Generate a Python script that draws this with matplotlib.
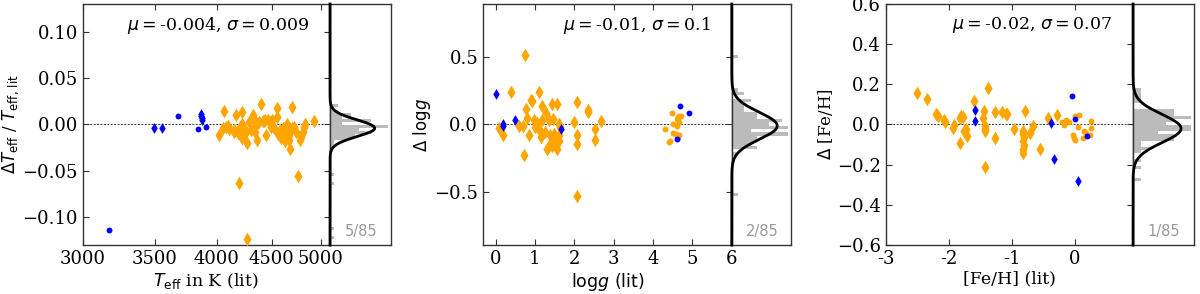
import numpy as np
import matplotlib
matplotlib.use('Agg')
from matplotlib import pyplot as plt
from matplotlib.ticker import NullLocator

plt.rcParams['font.family'] = 'DejaVu Serif'
plt.rcParams['mathtext.fontset'] = 'dejavusans'
plt.rcParams['font.size'] = 12

# ---- Teff panel ----
teff_od = [4015, 4050, 4061, 4081, 4100, 4110, 4150, 4155, 4169, 4188, 4197, 4200, 4213, 4219,
           4225, 4225, 4230, 4240, 4260, 4268, 4271, 4290, 4306, 4321, 4330, 4340, 4345, 4360,
           4382, 4398, 4415, 4430, 4440, 4447, 4462, 4480, 4497, 4500, 4520, 4549, 4551, 4560,
           4583, 4590, 4600, 4610, 4624, 4630, 4645, 4652, 4660, 4669, 4675, 4680, 4699, 4700,
           4724, 4746, 4765, 4785, 4795, 4810, 4825, 4835, 4929]
dteff_od = [-0.0115, -0.004, 0.0147, -0.0026, -0.002, -0.005, -0.008, -0.006, 0.010, -0.0097,
            -0.0636, -0.003, -0.0097, 0.0136, 0.001, -0.015, -0.012, -0.004, -0.008, -0.0205,
            -0.124, 0.0028, -0.006, 0.010, 0.006, -0.008, -0.003, -0.017, 0.003, 0.0219, 0.004,
            0.004, 0.005, -0.0115, 0.005, 0.003, -0.0026, 0.005, -0.004, 0.008, 0.0183, -0.010,
            -0.006, -0.015, -0.0097, -0.004, -0.013, -0.018, -0.0079, 0.0, -0.006, -0.0162,
            -0.011, -0.026, 0.019, -0.004, -0.0026, -0.008, -0.0558, -0.0162, -0.013, -0.008,
            -0.0026, 0.001, 0.0039]
teff_bd = [3499, 3558, 3869, 3869, 3872, 3872]
dteff_bd = [-0.0043, -0.0036, 0.011, 0.009, 0.007, 0.005]
teff_bc = [3176, 3678, 3844, 3905]
dteff_bc = [-0.1133, 0.009, -0.0054, -0.0032]

# ---- logg panel ----
logg_od = [0.09, 0.18, 0.39, 0.60, 0.70, 0.745, 0.72, 0.76, 0.79, 0.86, 0.90, 0.92, 0.97, 1.00,
           1.03, 1.05, 1.10, 1.12, 1.15, 1.17, 1.19, 1.25, 1.29, 1.30, 1.35, 1.35, 1.38, 1.40,
           1.44, 1.44, 1.46, 1.46, 1.48, 1.50, 1.56, 1.56, 1.60, 1.60, 1.60, 1.64, 1.99, 2.07,
           2.07, 2.07, 2.06, 2.35, 2.35, 2.52, 2.52, 2.69]
dlogg_od = [-0.025, -0.08, 0.238, -0.013, -0.013, 0.515, -0.223, 0.111, 0.045, -0.08, 0.18,
            0.17, 0.032, -0.018, 0.0, 0.01, 0.242, -0.05, -0.09, 0.03, 0.136, -0.055, 0.082,
            -0.178, 0.03, -0.16, -0.08, -0.14, -0.16, 0.149, 0.04, -0.10, -0.07, -0.15, -0.18,
            0.15, 0.0, -0.08, -0.12, -0.02, 0.02, 0.168, -0.075, -0.145, -0.53, 0.106, 0.09,
            -0.03, -0.117, 0.025]
logg_oc = [4.30, 4.40, 4.43, 4.49, 4.50, 4.50, 4.58, 4.60, 4.62, 4.63, 4.64, 4.65, 4.66, 4.67, 4.72]
dlogg_oc = [-0.035, -0.13, -0.12, 0.086, 0.0, -0.062, -0.07, 0.04, -0.01, 0.057, -0.09, -0.08,
            0.015, 0.06, 0.065]
logg_bd = [0.0, 0.18, 0.19, 0.5, 1.67]
dlogg_bd = [0.227, 0.0, -0.012, 0.032, -0.03]
logg_bc = [4.69, 4.91, 4.62]
dlogg_bc = [0.136, 0.084, -0.107]

# ---- [Fe/H] panel ----
feh_od = [-2.51, -2.34, -2.20, -2.17, -2.08, -2.06, -1.93, -1.91, -1.83, -1.83, -1.80, -1.77,
          -1.76, -1.73, -1.71, -1.60, -1.46, -1.45, -1.42, -1.42, -1.42, -1.38, -1.42, -1.27,
          -1.26, -1.15, -1.10, -1.07, -0.97, -0.80, -0.82, -0.82, -0.81, -0.82, -0.81, -0.82,
          -0.83, -0.71, -0.67, -0.55, -0.43, -0.29]
dfeh_od = [0.157, 0.129, 0.05, 0.043, 0.021, 0.012, -0.015, -0.004, -0.092, 0.03, 0.042, 0.037,
           -0.03, -0.02, -0.058, 0.118, 0.03, 0.068, -0.008, -0.02, -0.03, 0.184, -0.214, -0.065,
           0.063, 0.06, 0.05, 0.05, -0.02, 0.068, -0.03, -0.045, -0.06, -0.08, -0.10, -0.12,
           -0.14, -0.041, -0.008, -0.12, 0.03, 0.046]
feh_oc = [-0.20, -0.17, -0.14, -0.10, -0.03, -0.02, 0.0, 0.0, 0.06, 0.05, 0.12, 0.14, 0.17,
          0.25, 0.26, 0.23]
dfeh_oc = [0.013, -0.003, 0.022, 0.01, -0.05, -0.065, -0.078, 0.04, 0.046, -0.01, -0.065, -0.03,
           -0.04, -0.015, 0.016, -0.05]
feh_bd = [-1.59, -1.59, -0.385, -0.33, 0.04]
dfeh_bd = [0.071, 0.016, 0.008, -0.174, -0.282]
feh_bc = [-0.04, 0.0, 0.19]
dfeh_bc = [0.144, 0.028, -0.057]

fit_mu = [-0.004, -0.01, -0.02]
fit_sigma = [0.009, 0.1, 0.07]
fit_mu_txt = ['-0.004', '-0.01', '-0.02']
fit_sigma_txt = ['0.009', '0.1', '0.07']
outlier_txt = ['5/85', '2/85', '1/85']

fig = plt.figure(figsize=(12, 2.94), dpi=100)

bottom, height = 0.1667, 0.8197
main_rects = [(0.0689, 0.2061), (0.4025, 0.2073), (0.7381, 0.2061)]
hist_rects = [(0.2750, 0.0508), (0.6098, 0.0494), (0.9442, 0.0508)]

panels = [
    dict(od=(teff_od, dteff_od), oc=None, bd=(teff_bd, dteff_bd), bc=(teff_bc, dteff_bc),
         xlim=(3000, 5100), ylim=(-0.13, 0.13), log=True,
         xticks=[3000, 3500, 4000, 4500, 5000], yticks=[-0.10, -0.05, 0.0, 0.05, 0.10],
         yfmt='%.2f', bins=45,
         xlabel=r'$T_{\rm eff}$ in K (lit)',
         ylabel=r'$\Delta T_{\rm eff}$ / $T_{\rm eff,\,lit}$'),
    dict(od=(logg_od, dlogg_od), oc=(logg_oc, dlogg_oc), bd=(logg_bd, dlogg_bd),
         bc=(logg_bc, dlogg_bc), xlim=(-0.32, 6), ylim=(-0.89, 0.89), log=False,
         xticks=[0, 1, 2, 3, 4, 5, 6], yticks=[-0.5, 0.0, 0.5], yfmt='%.1f', bins=42,
         xlabel=r'$\mathrm{log}g\ \mathrm{(lit)}$', ylabel=r'$\Delta\ \mathrm{log}g$'),
    dict(od=(feh_od, dfeh_od), oc=(feh_oc, dfeh_oc), bd=(feh_bd, dfeh_bd),
         bc=(feh_bc, dfeh_bc), xlim=(-3, 0.92), ylim=(-0.6, 0.6), log=False,
         xticks=[-3, -2, -1, 0], yticks=[-0.6, -0.4, -0.2, 0.0, 0.2, 0.4, 0.6], yfmt='%.1f',
         bins=30, xlabel='[Fe/H] (lit)', ylabel=r'$\Delta$ [Fe/H]'),
]

orange = '#FFA500'
blue = '#0000FF'

for i, p in enumerate(panels):
    ax = fig.add_axes([main_rects[i][0], bottom, main_rects[i][1], height])
    axh = fig.add_axes([hist_rects[i][0], bottom, hist_rects[i][1], height])

    ax.scatter(*p['od'], marker='d', s=48, color=orange, lw=0, zorder=3)
    if p['oc'] is not None:
        ax.scatter(*p['oc'], marker='o', s=18, color=orange, lw=0, zorder=3)
    ax.scatter(*p['bd'], marker='d', s=30, color=blue, lw=0, zorder=4)
    ax.scatter(*p['bc'], marker='o', s=18, color=blue, lw=0, zorder=4)
    ax.axhline(0, color='#333333', ls='--', lw=0.7, dashes=(2, 1.5), zorder=2)

    if p['log']:
        ax.set_xscale('log')
        ax.xaxis.set_minor_locator(NullLocator())
    ax.set_xlim(*p['xlim'])
    ax.set_ylim(*p['ylim'])
    ax.set_xticks(p['xticks'])
    ax.set_xticklabels([str(t) for t in p['xticks']])
    ax.set_yticks(p['yticks'])
    ax.set_yticklabels([(p['yfmt'] % t).replace('-', '\u2212') for t in p['yticks']])
    ax.tick_params(direction='in', top=True, right=True, length=4, width=0.8,
                   labelsize=13, color='#333333')
    for sp in ax.spines.values():
        sp.set_color('#333333')
        sp.set_linewidth(1.0)
    ax.set_xlabel(p['xlabel'], fontsize=12.5, labelpad=2)
    ax.set_ylabel(p['ylabel'], fontsize=12, labelpad=1)
    ax.text(0.915, 0.955, r'$\mu=$' + fit_mu_txt[i] + r', $\sigma=$' + fit_sigma_txt[i],
            transform=ax.transAxes, ha='right', va='top', fontsize=12.5)

    # histogram of all residuals
    allv = np.concatenate([np.asarray(p[k][1]) for k in ('od', 'oc', 'bd', 'bc')
                           if p[k] is not None])
    counts, edges = np.histogram(allv, bins=p['bins'], density=True)
    axh.barh(edges[:-1], counts, height=np.diff(edges), align='edge', color='#BBBBBB', lw=0)
    yy = np.linspace(p['ylim'][0], p['ylim'][1], 500)
    gauss = np.exp(-0.5 * ((yy - fit_mu[i]) / fit_sigma[i]) ** 2) / (fit_sigma[i] * np.sqrt(2 * np.pi))
    axh.plot(gauss, yy, color='black', lw=2, clip_on=False, zorder=5)
    axh.set_ylim(*p['ylim'])
    axh.set_xlim(0, max(counts.max() * 1.05, gauss.max() * 1.27))
    axh.set_xticks([])
    axh.set_yticks([])
    for sp in axh.spines.values():
        sp.set_color('#333333')
        sp.set_linewidth(1.0)
    axh.text(0.51, 0.025, outlier_txt[i], transform=axh.transAxes, ha='center', va='bottom',
             fontsize=10.5, color='#999999', family='DejaVu Sans')

fig.savefig('out.png', dpi=100)
